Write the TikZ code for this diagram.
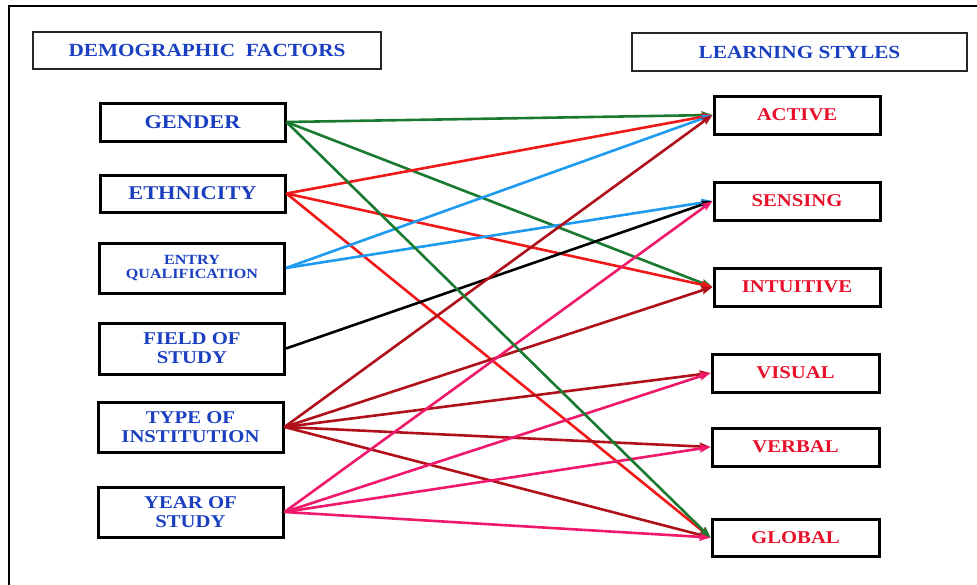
\documentclass[tikz,border=0pt]{standalone}
\usepackage{fontspec}
\setmainfont[FakeStretch=1.15]{Liberation Serif}
\usetikzlibrary{arrows.meta}
\definecolor{txtblue}{HTML}{1A3FC0}
\definecolor{txtred}{HTML}{E8102A}
\definecolor{lgreen}{HTML}{1A7A30}
\definecolor{lred}{HTML}{F01818}
\definecolor{lblue}{HTML}{1E9BF0}
\definecolor{ldred}{HTML}{B0101A}
\definecolor{lpink}{HTML}{F0186A}
\tikzset{
  header/.style={draw=black!85, line width=1.4pt, inner sep=0pt, font=\bfseries\fontsize{18.5}{20}\selectfont, text=txtblue},
  factor/.style={draw=black, line width=3pt, inner sep=0pt, align=center, font=\bfseries\fontsize{19.5}{19}\selectfont, text=txtblue, minimum width=185pt},
  lstyle/.style={draw=black, line width=3pt, inner sep=0pt, font=\bfseries\fontsize{18}{20}\selectfont, text=txtred, minimum width=166pt, minimum height=38pt},
  link/.style={line width=2.6pt, -{Stealth[length=11pt,width=8pt,inset=2pt]}},
}
\begin{document}
\begin{tikzpicture}[x=1pt,y=-1pt]
\useasboundingbox (0,0) rectangle (977,584);
\draw[line width=2pt] (8.5,600) -- (8.5,6) -- (990,6);
% headers
\node[header, minimum width=348pt, minimum height=37pt] (hdemo) at (207,50.5) {DEMOGRAPHIC\ \ FACTORS};
\node[header, minimum width=335pt, minimum height=38pt] (hlearn) at (799.5,52) {LEARNING STYLES};
% factors
\node[factor, minimum height=38pt] (gender) at (192.5,122) {GENDER};
\node[factor, minimum height=37pt] (eth) at (192.5,193.5) {ETHNICITY};
\node[factor, minimum height=50pt, font=\bfseries\fontsize{14}{14}\selectfont] (entry) at (192,268) {ENTRY\\QUALIFICATION};
\node[factor, minimum height=51pt, font=\bfseries\fontsize{18}{19}\selectfont] (field) at (192,348.5) {FIELD OF\\STUDY};
\node[factor, minimum height=50pt, font=\bfseries\fontsize{18}{19}\selectfont] (type) at (190.5,427) {TYPE OF\\INSTITUTION};
\node[factor, minimum height=50pt, font=\bfseries\fontsize{18}{19}\selectfont] (year) at (190.5,512) {YEAR OF\\STUDY};
% learning styles
\node[lstyle] (active) at (797,115) {ACTIVE};
\node[lstyle] (sensing) at (797,201) {SENSING};
\node[lstyle] (intuitive) at (797,287) {INTUITIVE};
\node[lstyle, minimum width=167pt] (visual) at (795.5,373) {VISUAL};
\node[lstyle, minimum width=167pt] (verbal) at (795.5,447) {VERBAL};
\node[lstyle, minimum width=167pt, minimum height=37pt] (global) at (795.5,537.5) {GLOBAL};
% links
\draw[link, lgreen] (gender.east) -- (active.west);
\draw[link, lgreen] (gender.east) -- (intuitive.west);
\draw[link, lred] (eth.east) -- (active.west);
\draw[link, lred] (eth.east) -- (intuitive.west);
\draw[link, lred] (eth.east) -- (global.west);
\draw[link, lblue] (entry.east) -- (active.west);
\draw[link, lblue] (entry.east) -- (sensing.west);
\draw[link, black] (field.east) -- (sensing.west);
\draw[link, ldred] (type.east) -- (active.west);
\draw[link, ldred] (type.east) -- (intuitive.west);
\draw[link, ldred] (type.east) -- (visual.west);
\draw[link, ldred] (type.east) -- (verbal.west);
\draw[link, ldred] (type.east) -- (global.west);
\draw[link, lpink] (year.east) -- (sensing.west);
\draw[link, lpink] (year.east) -- (visual.west);
\draw[link, lpink] (year.east) -- (verbal.west);
\draw[link, lpink] (year.east) -- (global.west);
\draw[link, lgreen] (gender.east) -- (global.west);
\end{tikzpicture}
\end{document}
